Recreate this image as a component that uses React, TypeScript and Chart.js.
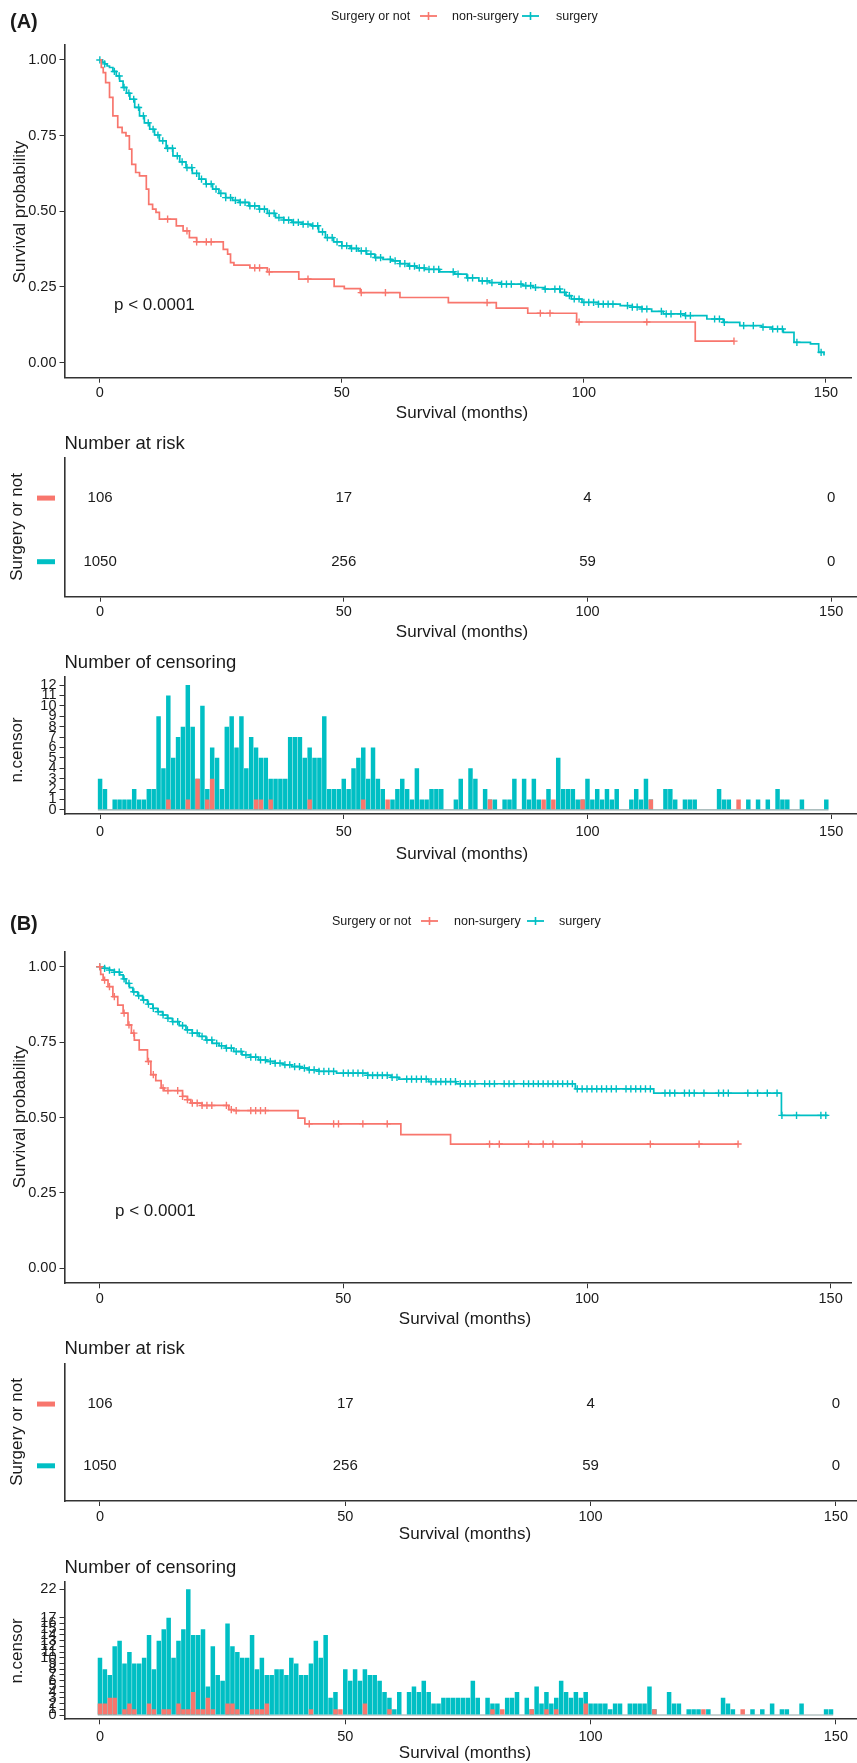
import React, { useEffect, useRef } from 'react';
import { Chart, registerables } from 'chart.js';

Chart.register(...registerables);

const FONT = '"Liberation Sans", Arial, Helvetica, sans-serif';
const RED = '#F8766D';
const TEAL = '#00BFC4';
const AXIS = '#333333';
const TEXT = '#1a1a1a';
const ZERO_LINE = 'rgba(110,140,140,0.75)';

// ---------------- data ----------------
const GROUPS = ['non-surgery', 'surgery'];
const X_TICKS = [0, 50, 100, 150];
const SURV_Y_TICKS = [0, 0.25, 0.5, 0.75, 1];
const RISK_TIMES = [0, 50, 100, 150];
const A_RISK_NON = [106, 17, 4, 0];
const A_RISK_SURG = [1050, 256, 59, 0];
const B_RISK_NON = [106, 17, 4, 0];
const B_RISK_SURG = [1050, 256, 59, 0];
const A_CENS_Y_TICKS = [0, 1, 2, 3, 4, 5, 6, 7, 8, 9, 10, 11, 12];
const B_CENS_Y_TICKS = [0, 1, 2, 3, 4, 5, 6, 7, 8, 9, 10, 11, 12, 13, 14, 15, 16, 17, 22];
const P_TEXT = 'p < 0.0001';

// Kaplan-Meier steps: [months, survival probability]
const A_KM_NON: [number, number][] = [
  [0, 1], [0.3, 0.975], [0.7, 0.958], [1.2, 0.925], [2.0, 0.876], [2.7, 0.815], [3.7, 0.777],
  [4.6, 0.76], [5.4, 0.749], [6.1, 0.705], [6.6, 0.655], [7.4, 0.628], [8.2, 0.617], [9.6, 0.573],
  [10.1, 0.523], [10.9, 0.507], [11.6, 0.496], [12.3, 0.474], [15.8, 0.452], [17.2, 0.435],
  [18.5, 0.413], [20.0, 0.399], [25.5, 0.374], [26.4, 0.358], [27.0, 0.33], [27.7, 0.322],
  [31.0, 0.313], [34.6, 0.3], [41.1, 0.276], [48.4, 0.252], [50.5, 0.244], [53.8, 0.231],
  [62.0, 0.215], [72.0, 0.198], [81.9, 0.18], [88.4, 0.163], [98.5, 0.134], [123.0, 0.071],
  [131.0, 0.071],
];
const A_KM_SURG: [number, number][] = [
  [0, 1], [0.5, 0.993], [1, 0.987], [1.5, 0.98], [2, 0.975], [2.7, 0.962], [3.4, 0.947], [4.1, 0.93],
  [4.8, 0.909], [5.5, 0.89], [6.2, 0.87], [7.2, 0.843], [8.2, 0.815], [9.2, 0.792], [10.3, 0.771],
  [11.3, 0.752], [12.3, 0.733], [13.7, 0.708], [15.1, 0.683], [16.5, 0.663], [17.8, 0.644],
  [19.1, 0.625], [20.5, 0.606], [21.9, 0.59], [23.3, 0.573], [24.6, 0.559], [26, 0.545],
  [27.4, 0.536], [28.8, 0.529], [30.8, 0.518], [32.9, 0.507], [34.6, 0.493], [36.3, 0.479],
  [38, 0.471], [39.7, 0.463], [41.8, 0.457], [43.8, 0.452], [45.2, 0.432], [46.6, 0.413],
  [48.3, 0.399], [50, 0.386], [51.7, 0.377], [53.4, 0.369], [55.1, 0.358], [56.8, 0.347],
  [58.5, 0.341], [60.3, 0.336], [62, 0.327], [63.7, 0.319], [65.4, 0.313], [67.1, 0.308],
  [70.2, 0.3], [73.3, 0.292], [75.8, 0.28], [78.3, 0.27], [80.5, 0.264], [82.8, 0.259],
  [87.3, 0.254], [89.5, 0.248], [91.8, 0.243], [95.1, 0.232], [96.3, 0.221], [97.4, 0.21],
  [99.6, 0.199], [103, 0.193], [107.5, 0.188], [110, 0.183], [112, 0.177], [114, 0.169],
  [116.4, 0.161], [120.9, 0.155], [125.4, 0.144], [128.8, 0.133], [132.2, 0.122], [136.7, 0.117],
  [138.9, 0.111], [141.2, 0.1], [143.4, 0.067], [146.8, 0.062], [148.5, 0.034], [149.6, 0.023],
];
const B_KM_NON: [number, number][] = [
  [0, 1], [0.2, 0.975], [0.7, 0.956], [1.7, 0.934], [2.7, 0.901], [3.7, 0.873], [4.8, 0.846],
  [5.8, 0.807], [6.5, 0.78], [7.1, 0.757], [8.1, 0.724], [9.8, 0.686], [10.5, 0.642], [11.5, 0.622],
  [12.6, 0.598], [13.2, 0.589], [17.0, 0.57], [18.0, 0.559], [18.7, 0.548], [21.0, 0.54],
  [26.5, 0.526], [27.5, 0.523], [40.7, 0.498], [42.1, 0.479], [61.8, 0.443], [72.0, 0.412],
  [131.0, 0.412],
];
const B_KM_SURG: [number, number][] = [
  [0, 1], [1, 0.995], [2, 0.989], [3, 0.982], [4.1, 0.973], [4.8, 0.96], [5.4, 0.945], [6.1, 0.931],
  [6.8, 0.917], [7.8, 0.904], [8.8, 0.89], [9.8, 0.876], [10.9, 0.862], [11.9, 0.851], [12.9, 0.84],
  [13.9, 0.829], [14.9, 0.818], [16.3, 0.805], [17.7, 0.791], [19, 0.78], [20.4, 0.769],
  [21.8, 0.757], [23.1, 0.746], [24.5, 0.738], [25.8, 0.73], [27.5, 0.719], [29.2, 0.708],
  [30.9, 0.7], [32.6, 0.691], [34.3, 0.686], [36, 0.68], [37.7, 0.675], [39.4, 0.669],
  [41.1, 0.664], [42.8, 0.658], [45, 0.653], [48.6, 0.647], [55, 0.64], [59.8, 0.633],
  [61.4, 0.627], [67.5, 0.619], [73.1, 0.612], [97.6, 0.595], [113.7, 0.581], [139.9, 0.507],
  [149.4, 0.507],
];

// number censored per month: [month, count]
const A_CENS_NON: [number, number][] = [
  [14, 1], [18, 1], [20, 3], [22, 1], [23, 3], [32, 1], [33, 1], [35, 1], [43, 1], [54, 1], [59, 1],
  [80, 1], [91, 1], [93, 1], [99, 1], [113, 1], [131, 1],
];
const A_CENS_SURG: [number, number][] = [
  [0, 3], [1, 2], [3, 1], [4, 1], [5, 1], [6, 1], [7, 2], [8, 1], [9, 1], [10, 2], [11, 2], [12, 9],
  [13, 4], [14, 11], [15, 5], [16, 7], [17, 8], [18, 12], [19, 8], [20, 3], [21, 10], [22, 2], [23, 6],
  [24, 5], [25, 2], [26, 8], [27, 9], [28, 6], [29, 9], [30, 4], [31, 7], [32, 6], [33, 5], [34, 5],
  [35, 3], [36, 3], [37, 3], [38, 3], [39, 7], [40, 7], [41, 7], [42, 5], [43, 6], [44, 5], [45, 5],
  [46, 9], [47, 2], [48, 2], [49, 2], [50, 3], [51, 2], [52, 4], [53, 5], [54, 6], [55, 3], [56, 6],
  [57, 3], [58, 2], [60, 1], [61, 2], [62, 3], [63, 2], [64, 1], [65, 4], [66, 1], [67, 1], [68, 2],
  [69, 2], [70, 2], [73, 1], [74, 3], [76, 4], [77, 3], [79, 2], [80, 1], [81, 1], [83, 1], [84, 1],
  [85, 3], [87, 3], [88, 1], [89, 3], [90, 1], [92, 2], [94, 5], [95, 2], [96, 2], [97, 2], [98, 1],
  [99, 1], [100, 3], [101, 1], [102, 2], [103, 1], [104, 2], [105, 1], [106, 2], [109, 1], [110, 2],
  [111, 1], [112, 3], [113, 1], [116, 2], [117, 2], [118, 1], [120, 1], [121, 1], [122, 1], [127, 2],
  [128, 1], [129, 1], [133, 1], [135, 1], [137, 1], [139, 2], [140, 1], [141, 1], [144, 1], [149, 1],
];
const B_CENS_NON: [number, number][] = [
  [0, 2], [1, 2], [2, 3], [3, 3], [5, 1], [6, 2], [7, 1], [10, 2], [11, 1], [13, 1], [14, 1], [16, 2],
  [17, 1], [18, 1], [19, 4], [20, 1], [21, 1], [22, 3], [23, 1], [26, 2], [27, 2], [28, 1], [31, 1],
  [32, 1], [33, 1], [34, 2], [43, 1], [48, 1], [49, 1], [54, 2], [59, 1], [80, 1], [82, 1], [88, 1],
  [91, 1], [93, 1], [99, 2], [113, 1], [123, 1], [131, 1],
];
const B_CENS_SURG: [number, number][] = [
  [0, 10], [1, 8], [2, 7], [3, 12], [4, 13], [5, 9], [6, 11], [7, 9], [8, 9], [9, 10], [10, 14],
  [11, 8], [12, 13], [13, 15], [14, 17], [15, 10], [16, 13], [17, 15], [18, 22], [19, 14], [20, 14],
  [21, 15], [22, 5], [23, 12], [24, 7], [25, 6], [26, 16], [27, 12], [28, 11], [29, 10], [30, 10],
  [31, 14], [32, 8], [33, 10], [34, 7], [35, 7], [36, 8], [37, 8], [38, 7], [39, 10], [40, 9],
  [41, 7], [42, 7], [43, 9], [44, 13], [45, 10], [46, 14], [47, 3], [48, 4], [50, 8], [51, 6],
  [52, 8], [53, 6], [54, 8], [55, 7], [56, 7], [57, 6], [58, 4], [59, 3], [60, 1], [61, 4], [63, 4],
  [64, 5], [65, 4], [66, 6], [67, 4], [68, 2], [69, 2], [70, 3], [71, 3], [72, 3], [73, 3], [74, 3],
  [75, 3], [76, 6], [77, 3], [79, 3], [80, 2], [81, 2], [83, 3], [84, 3], [85, 4], [87, 3], [88, 1],
  [89, 5], [90, 2], [91, 4], [92, 2], [93, 3], [94, 6], [95, 4], [96, 3], [97, 4], [98, 3], [99, 4],
  [100, 2], [101, 2], [102, 2], [103, 2], [104, 1], [105, 2], [106, 2], [108, 2], [109, 2], [110, 2],
  [111, 2], [112, 5], [113, 1], [116, 4], [117, 2], [118, 2], [120, 1], [121, 1], [122, 1], [124, 1],
  [127, 3], [128, 2], [129, 1], [133, 1], [135, 1], [137, 2], [139, 1], [140, 1], [143, 2], [148, 1],
  [149, 1],
];

// ---------------- helpers ----------------
type Pair = [number, number];
const toXY = (arr: Pair[]) => arr.map(([x, y]) => ({ x, y }));
function survAt(km: Pair[], t: number) {
  let s = km[0][1];
  for (const [tt, ss] of km) {
    if (tt <= t) s = ss;
    else break;
  }
  return s;
}
const censorMarks = (cens: Pair[], km: Pair[]) =>
  cens.filter(([t, n]) => n > 0 && t <= km[km.length - 1][0]).map(([t]) => ({ x: t, y: survAt(km, t) }));

const tickFont = { family: FONT, size: 14.5 };

function xAxis(min: number, max: number, height: number, pad: number) {
  return {
    type: 'linear', min, max, offset: false,
    afterBuildTicks: (s: any) => { s.ticks = X_TICKS.map((v) => ({ value: v })); },
    afterFit: (s: any) => { s.height = height; },
    grid: { display: true, offset: false, drawOnChartArea: false, drawTicks: true, tickLength: 5, color: AXIS, lineWidth: 1 },
    border: { display: true, color: AXIS, width: 1.6 },
    ticks: { autoSkip: false, maxRotation: 0, minRotation: 0, padding: pad, color: TEXT, font: tickFont, callback: (v: any) => String(v) },
  };
}
function yAxis(min: number, max: number, ticks: number[], fmt: (v: number) => string, show = true) {
  return {
    type: 'linear', min, max, offset: false,
    afterBuildTicks: (s: any) => { s.ticks = ticks.map((v) => ({ value: v })); },
    afterFit: (s: any) => { s.width = 64.5; },
    grid: { display: show, offset: false, drawOnChartArea: false, drawTicks: true, tickLength: 5, color: AXIS, lineWidth: 1 },
    border: { display: true, color: AXIS, width: 1.6 },
    ticks: { display: show, autoSkip: false, padding: 3, color: TEXT, font: tickFont, callback: (v: any) => fmt(Number(v)) },
  };
}
const baseOptions = (padTop: number) => ({
  responsive: false,
  animation: false,
  devicePixelRatio: 1,
  events: [],
  layout: { padding: { top: padTop, left: 0, right: 0, bottom: 0 } },
  plugins: { legend: { display: false }, tooltip: { enabled: false } },
});

interface PanelData {
  kmNon: Pair[]; kmSurg: Pair[]; censNon: Pair[]; censSurg: Pair[];
  riskNon: number[]; riskSurg: number[]; censTicks: number[];
  xMin: number; xMax: number; censMin: number; censMax: number;
}

function survConfig(p: PanelData, padTop: number, xH: number) {
  return {
    type: 'line',
    data: {
      datasets: [
        { type: 'scatter', data: censorMarks(p.censNon, p.kmNon), pointStyle: 'cross', pointRadius: 3.6, borderColor: RED, borderWidth: 1.4, backgroundColor: RED, showLine: false, order: 0 },
        { type: 'line', label: GROUPS[0], data: toXY(p.kmNon), stepped: 'before', borderColor: RED, borderWidth: 1.7, pointRadius: 0, fill: false, order: 1 },
        { type: 'scatter', data: censorMarks(p.censSurg, p.kmSurg), pointStyle: 'cross', pointRadius: 3.6, borderColor: TEAL, borderWidth: 1.4, backgroundColor: TEAL, showLine: false, order: 2 },
        { type: 'line', label: GROUPS[1], data: toXY(p.kmSurg), stepped: 'before', borderColor: TEAL, borderWidth: 1.7, pointRadius: 0, fill: false, order: 3 },
      ],
    },
    options: {
      ...baseOptions(padTop),
      scales: {
        x: xAxis(p.xMin, p.xMax, xH, 2),
        y: yAxis(-0.05, 1.05, SURV_Y_TICKS, (v) => v.toFixed(2)),
      },
    },
  };
}

const riskPlugin = {
  id: 'riskText',
  afterDatasetsDraw(chart: any) {
    const ctx = chart.ctx;
    const yS = chart.scales.y;
    chart.data.datasets.forEach((ds: any, i: number) => {
      const meta = chart.getDatasetMeta(i);
      ctx.save();
      ctx.fillStyle = TEXT;
      ctx.font = `15px ${FONT}`;
      ctx.textAlign = 'center';
      ctx.textBaseline = 'middle';
      meta.data.forEach((el: any, j: number) => ctx.fillText(String(ds.riskValues[j]), el.x, el.y));
      const yy = yS.getPixelForValue(ds.data[0].y);
      ctx.fillStyle = ds.keyColor;
      ctx.fillRect(37, yy - 2.5, 18, 5);
      ctx.restore();
    });
  },
};

function riskConfig(p: PanelData, padTop: number, xH: number, yMin: number, yMax: number) {
  const rows = [p.riskNon, p.riskSurg];
  const colors = [RED, TEAL];
  return {
    type: 'scatter',
    data: {
      datasets: rows.map((vals, i) => ({
        label: GROUPS[i],
        data: RISK_TIMES.map((t) => ({ x: t, y: GROUPS.length - i })),
        riskValues: vals,
        keyColor: colors[i],
        pointRadius: 0,
      })),
    },
    options: {
      ...baseOptions(padTop),
      scales: {
        x: xAxis(p.xMin, p.xMax, xH, 2),
        y: yAxis(yMin, yMax, [], (v) => String(v), false),
      },
    },
    plugins: [riskPlugin],
  };
}

function censConfig(p: PanelData, padTop: number, xH: number) {
  const allT = p.censSurg.map((d) => d[0]).concat(p.censNon.map((d) => d[0]));
  const t0 = Math.min(...allT) - 0.45;
  const t1 = Math.max(...allT) + 0.45;
  return {
    type: 'bar',
    data: {
      datasets: [
        { type: 'bar', label: GROUPS[0], data: toXY(p.censNon), backgroundColor: RED, grouped: false, barPercentage: 0.92, categoryPercentage: 1, order: 0 },
        { type: 'bar', label: GROUPS[1], data: toXY(p.censSurg), backgroundColor: TEAL, grouped: false, barPercentage: 0.92, categoryPercentage: 1, order: 1 },
        { type: 'line', data: [{ x: t0, y: 0 }, { x: t1, y: 0 }], borderColor: ZERO_LINE, borderWidth: 1.2, pointRadius: 0, order: 2 },
      ],
    },
    options: {
      ...baseOptions(padTop),
      scales: {
        x: xAxis(p.xMin, p.xMax, xH, 4),
        y: yAxis(p.censMin, p.censMax, p.censTicks, (v) => String(v)),
      },
    },
  };
}

// ---------------- components ----------------
function ChartBox({ top, height, make }: { top: number; height: number; make: () => any }) {
  const ref = useRef<HTMLCanvasElement>(null);
  useEffect(() => {
    const c = new Chart(ref.current as HTMLCanvasElement, make());
    return () => c.destroy();
  }, []);
  return (
    <canvas
      ref={ref}
      width={857}
      height={height}
      style={{ position: 'absolute', left: 0, top, width: 857, height, display: 'block' }}
    />
  );
}

function T({ x, y, size, text, anchor = 'start', rotate = false, bold = false }: any) {
  const tf = rotate
    ? 'translate(-50%,-50%) rotate(-90deg)'
    : anchor === 'middle'
    ? 'translate(-50%,-50%)'
    : 'translate(0,-50%)';
  return (
    <div
      style={{
        position: 'absolute', left: x, top: y, transform: tf, fontFamily: FONT, fontSize: size,
        fontWeight: bold ? 700 : 400, color: TEXT, whiteSpace: 'nowrap', lineHeight: 1,
      }}
    >
      {text}
    </div>
  );
}

function Key({ x, y, color }: { x: number; y: number; color: string }) {
  return (
    <svg style={{ position: 'absolute', left: x, top: y - 8 }} width={17} height={16}>
      <line x1={0} y1={8} x2={17} y2={8} stroke={color} strokeWidth={1.8} />
      <line x1={8.5} y1={4} x2={8.5} y2={12} stroke={color} strokeWidth={1.6} />
    </svg>
  );
}

function Legend({ y, xs }: { y: number; xs: number[] }) {
  return (
    <>
      <T x={xs[0]} y={y} size={12.5} text="Surgery or not" />
      <Key x={xs[1]} y={y} color={RED} />
      <T x={xs[2]} y={y} size={12.5} text={GROUPS[0]} />
      <Key x={xs[3]} y={y} color={TEAL} />
      <T x={xs[4]} y={y} size={12.5} text={GROUPS[1]} />
    </>
  );
}

const PANEL_A: PanelData = {
  kmNon: A_KM_NON, kmSurg: A_KM_SURG, censNon: A_CENS_NON, censSurg: A_CENS_SURG,
  riskNon: A_RISK_NON, riskSurg: A_RISK_SURG, censTicks: A_CENS_Y_TICKS,
  xMin: -7.3, xMax: 155.3, censMin: -0.4, censMax: 12.8,
};
const PANEL_B: PanelData = {
  kmNon: B_KM_NON, kmSurg: B_KM_SURG, censNon: B_CENS_NON, censSurg: B_CENS_SURG,
  riskNon: B_RISK_NON, riskSurg: B_RISK_SURG, censTicks: B_CENS_Y_TICKS,
  xMin: -7.23, xMax: 154.3, censMin: -0.75, censMax: 23.3,
};

export default function App() {
  return (
    <div style={{ position: 'absolute', left: 0, top: 0, width: 857, height: 1763, background: '#fff', overflow: 'hidden' }}>
      {/* Panel A */}
      <ChartBox top={0} height={405} make={() => survConfig(PANEL_A, 44.8, 405 - 377.7)} />
      <ChartBox top={450} height={175} make={() => riskConfig(PANEL_A, 8, 625 - 596.7, 0.45, 2.63)} />
      <ChartBox top={665} height={180} make={() => censConfig(PANEL_A, 10, 845 - 814)} />
      <T x={10} y={21} size={20} bold text="(A)" />
      <Legend y={15.5} xs={[331, 420, 452, 522, 556]} />
      <T x={19} y={212} size={17} rotate text="Survival probability" />
      <T x={114} y={304} size={17} text={P_TEXT} />
      <T x={462} y={412} size={17} anchor="middle" text="Survival (months)" />
      <T x={64.5} y={442.7} size={18.5} text="Number at risk" />
      <T x={16} y={527} size={17} rotate text="Surgery or not" />
      <T x={462} y={630.7} size={17} anchor="middle" text="Survival (months)" />
      <T x={64.5} y={661.7} size={18.5} text="Number of censoring" />
      <T x={16} y={750} size={17} rotate text="n.censor" />
      <T x={462} y={853.3} size={17} anchor="middle" text="Survival (months)" />

      {/* Panel B */}
      <ChartBox top={900} height={410} make={() => survConfig(PANEL_B, 51.7, 1310 - 1283.3)} />
      <ChartBox top={1355} height={175} make={() => riskConfig(PANEL_B, 8.3, 1530 - 1501, 0.43, 2.66)} />
      <ChartBox top={1570} height={180} make={() => censConfig(PANEL_B, 11.7, 1750 - 1719.3)} />
      <T x={10} y={923} size={20} bold text="(B)" />
      <Legend y={921} xs={[332, 421, 454, 527, 559]} />
      <T x={19} y={1117} size={17} rotate text="Survival probability" />
      <T x={115} y={1210} size={17} text={P_TEXT} />
      <T x={465} y={1318.3} size={17} anchor="middle" text="Survival (months)" />
      <T x={64.5} y={1348.3} size={18.5} text="Number at risk" />
      <T x={16} y={1432} size={17} rotate text="Surgery or not" />
      <T x={465} y={1533} size={17} anchor="middle" text="Survival (months)" />
      <T x={64.5} y={1566.7} size={18.5} text="Number of censoring" />
      <T x={16} y={1651} size={17} rotate text="n.censor" />
      <T x={465} y={1751.7} size={17} anchor="middle" text="Survival (months)" />
    </div>
  );
}
